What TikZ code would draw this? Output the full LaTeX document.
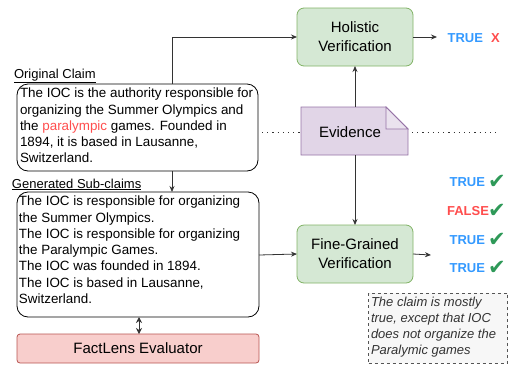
\documentclass[tikz,border=0pt]{standalone}
\usepackage{fontspec}
\setmainfont{Liberation Sans}
\newfontfamily\symfont{DejaVu Sans}
\usetikzlibrary{arrows.meta,shapes.misc}
\definecolor{gfill}{HTML}{D5E8D4}
\definecolor{gline}{HTML}{82B366}
\definecolor{pfill}{HTML}{E1D5E7}
\definecolor{pline}{HTML}{9673A6}
\definecolor{rfill}{HTML}{F8CECC}
\definecolor{rline}{HTML}{B85450}
\definecolor{nfill}{HTML}{F7F7F7}
\definecolor{nline}{HTML}{555555}
\definecolor{ntext}{HTML}{333333}
\definecolor{tblue}{HTML}{3399FF}
\definecolor{fred}{HTML}{FF4D4D}
\definecolor{cgreen}{HTML}{2E9958}
\begin{document}
\begin{tikzpicture}[x=1pt,y=-1pt,
  every node/.style={inner sep=0pt,outer sep=0pt},
  vbox/.style={draw=gline,fill=gfill,rounded corners=7pt,line width=0.8pt,align=center,
    font=\fontsize{15}{19}\selectfont},
  conn/.style={draw=black!80,line width=0.8pt},
  arr/.style={conn,-{Stealth[length=6pt,width=5pt]}},
  txtbox/.style={draw=black,rounded corners=11pt,line width=0.8pt},
  lbl/.style={font=\fontsize{13}{16}\selectfont,anchor=base west},
  body/.style={font=\fontsize{13.4}{16.3}\selectfont,align=left,anchor=north west},
  tf/.style={font=\fontsize{13}{16}\selectfont\bfseries,anchor=base east},
  chk/.style={font=\symfont\fontsize{21}{21}\selectfont,text=cgreen,anchor=base west}
]
\useasboundingbox (0,0) rectangle (509,365);

% Holistic / Fine-grained
\node[vbox,minimum width=116pt,minimum height=58pt] (hol) at (355,37) {Holistic\\Verification};
\node[vbox,minimum width=116pt,minimum height=58pt] (fine) at (355,254) {Fine-Grained\\Verification};

% Evidence note
\draw[draw=pline,fill=pfill,line width=0.8pt] (301,107) -- (386,107) -- (408,129) -- (408,155) -- (301,155) -- cycle;
\draw[draw=pline,fill=pfill!70!pline!40,line width=0.8pt] (386,107) -- (386,129) -- (408,129) -- cycle;
\node[font=\fontsize{15}{19}\selectfont] (ev) at (350,132) {Evidence};
\coordinate (evT) at (355,107);
\coordinate (evB) at (355,155);
\coordinate (evL) at (301,132);
\coordinate (evR) at (408,132);

% Original claim
\node[lbl] (olbl) at (14,78) {\underline{Original Claim}};
\draw[txtbox] (17,84) rectangle (258,171);
\coordinate (clT) at (172,84);
\coordinate (clB) at (172,171);
\coordinate (clR) at (258,132);
\node[body] (cltxt) at (20,88) {The IOC is the authority responsible for\\organizing the Summer Olympics and\\the \textcolor{fred}{paralympic} games. Founded in\\1894, it is based in Lausanne,\\Switzerland.};

% Sub-claims
\node[lbl] (slbl) at (12,188) {\underline{Generated Sub-claims}};
\draw[txtbox] (17,192) rectangle (259,317);
\coordinate (scT) at (172,192);
\coordinate (scR) at (259,255);
\coordinate (scB) at (139,317);
\node[body] (sctxt) at (19,196) {The IOC is responsible for organizing\\the Summer Olympics.\\The IOC is responsible for organizing\\the Paralympic Games.\\The IOC was founded in 1894.\\The IOC is based in Lausanne,\\Switzerland.};

% FactLens
\node[draw=rline,fill=rfill,rounded corners=3pt,line width=0.8pt,minimum width=242pt,minimum height=29pt,
  font=\fontsize{15}{19}\selectfont] (fl) at (138,348.5) {FactLens Evaluator};

% connectors
\draw[arr] (clT) -- (172,37) -- (hol.west);
\draw[arr] (clB) -- (scT);
\draw[arr] (scR) -- (fine.west);
\draw[arr] (evT) -- (hol.south);
\draw[arr] (evB) -- (fine.north);
\draw[arr] (hol.east) -- (437,37);
\draw[arr] (fine.east) -- (431,255);
\draw[conn,{Stealth[length=6pt,width=6pt]}-{Stealth[length=6pt,width=6pt]}] (scB) -- (fl.north -| scB);
\draw[black!80,line width=1pt,dash pattern=on 1.2pt off 4pt] (clR) ++(4,0) -- (evL);
\draw[black!80,line width=1pt,dash pattern=on 1.2pt off 4pt] (evR) ++(4,0) -- (500,132);

% results
\node[tf,text=tblue] (hr) at (483,42) {TRUE};
\node[font=\fontsize{13}{16}\selectfont\bfseries,text=fred,anchor=base west] (hx) at (491,42) {X};
\node[tf,text=tblue] (r1) at (485,186) {TRUE};
\node[tf,text=fred] (r2) at (489,215) {FALSE};
\node[tf,text=tblue] (r3) at (485,244) {TRUE};
\node[tf,text=tblue] (r4) at (485,272) {TRUE};
\node[chk] (c1) at (488,188) {✔};
\node[chk] (c2) at (488,217) {✔};
\node[chk] (c3) at (488,246) {✔};
\node[chk] (c4) at (488,274) {✔};

% note
\node[draw=nline,fill=nfill,dashed,line width=0.6pt,minimum width=139pt,minimum height=70pt] (note) at (438,328) {};
\node[font=\fontsize{13}{16}\selectfont\itshape,text=ntext,align=left,anchor=north west] (notetxt) at (371,297)
  {The claim is mostly\\true, except that IOC\\does not organize the\\Paralymic games};
\end{tikzpicture}
\end{document}
